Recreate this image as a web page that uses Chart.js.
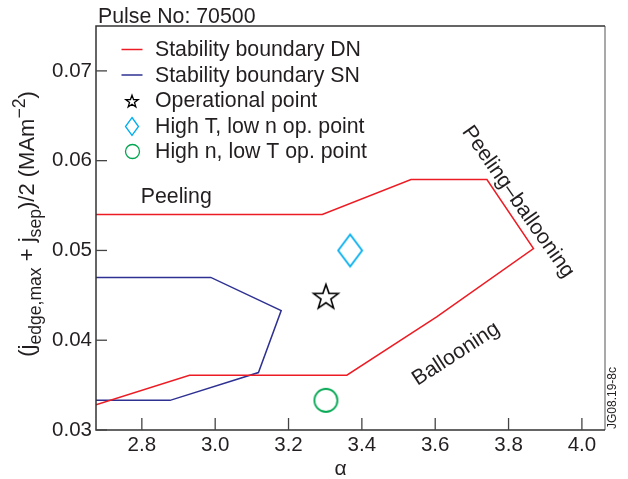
<!DOCTYPE html>
<html><head><meta charset="utf-8">
<script src="https://cdn.jsdelivr.net/npm/chart.js@4.4.1/dist/chart.umd.min.js"></script>
<style>html,body{margin:0;padding:0;background:#fff}#wrap{width:628px;height:479px;position:relative}</style>
</head><body><div id="wrap"><canvas id="c" width="628" height="479"></canvas></div>
<script>
// Stability boundaries: alpha vs. (j_edge,max + j_sep)/2
const dnAlpha = [2.675, 3.292, 3.534, 3.741, 3.868, 3.604, 3.359, 2.930, 2.675];
const dnJ     = [0.0540, 0.0540, 0.0579, 0.0579, 0.0502, 0.0426, 0.0361, 0.0361, 0.0328];
const snAlpha = [2.675, 2.988, 3.180, 3.118, 2.877, 2.675];
const snJ     = [0.0470, 0.0470, 0.0433, 0.0364, 0.0333, 0.0333];
// Operating points
const opAlpha  = [3.302]; const opJ  = [0.0449];
const hiTAlpha = [3.368]; const hiTJ = [0.0500];
const hiNAlpha = [3.302]; const hiNJ = [0.0333];
// Axis ticks
const xTicks = [2.8, 3.0, 3.2, 3.4, 3.6, 3.8, 4.0];
const yTicks = [0.03, 0.04, 0.05, 0.06, 0.07];
const seriesNames = ['Stability boundary DN', 'Stability boundary SN', 'Operational point',
                     'High T, low n op. point', 'High n, low T op. point'];

const FONT = "'Liberation Sans', Arial, Helvetica, sans-serif";
const TXT = 21.3;
const INK = '#231f20';
const RED = '#ed1c24', BLUE = '#2e3192', CYAN = '#00aeef', GREEN = '#00a651';

function zip(xs, ys) { return xs.map((x, i) => ({ x: x, y: ys[i] })); }

// Marker glyphs drawn onto small canvases
function starMarker(r, lw) {
  const s = Math.ceil(2 * r + 2 * lw + 2), c = document.createElement('canvas');
  c.width = s; c.height = s;
  const g = c.getContext('2d'), cx = s / 2, cy = s / 2 + r * 0.1, ri = r * 0.4;
  g.beginPath();
  for (let k = 0; k < 10; k++) {
    const a = -Math.PI / 2 + k * Math.PI / 5, rr = k % 2 ? ri : r;
    const px = cx + rr * Math.cos(a), py = cy + rr * Math.sin(a);
    k ? g.lineTo(px, py) : g.moveTo(px, py);
  }
  g.closePath(); g.lineWidth = lw; g.lineJoin = 'miter'; g.strokeStyle = '#000'; g.stroke();
  return c;
}
function diamondMarker(w, h, lw, color) {
  const cw = Math.ceil(w + 2 * lw + 2), ch = Math.ceil(h + 2 * lw + 2), c = document.createElement('canvas');
  c.width = cw; c.height = ch;
  const g = c.getContext('2d'), cx = cw / 2, cy = ch / 2;
  g.beginPath();
  g.moveTo(cx, cy - h / 2); g.lineTo(cx + w / 2, cy); g.lineTo(cx, cy + h / 2); g.lineTo(cx - w / 2, cy);
  g.closePath(); g.lineWidth = lw; g.strokeStyle = color; g.stroke();
  return c;
}
function circleMarker(r, lw, color) {
  const s = Math.ceil(2 * r + 2 * lw + 2), c = document.createElement('canvas');
  c.width = s; c.height = s;
  const g = c.getContext('2d');
  g.beginPath(); g.arc(s / 2, s / 2, r, 0, Math.PI * 2);
  g.lineWidth = lw; g.strokeStyle = color; g.stroke();
  return c;
}

const bigStar = starMarker(13, 1.6), smallStar = starMarker(6.5, 1.3);
const bigDiamond = diamondMarker(24, 32, 1.8, CYAN), smallDiamond = diamondMarker(13, 18, 1.3, CYAN);
const bigCircle = circleMarker(11.5, 1.8, GREEN), smallCircle = circleMarker(7, 1.3, GREEN);
const legendGlyphs = [null, null, smallStar, smallDiamond, smallCircle];

// Rotated region labels, anchored in data units
const regionNotes = [
  { text: 'Peeling', a: 2.797, j: 0.05595, rot: 0, align: 'left' },
  { text: 'Peeling\u2013ballooning', a: 3.8256, j: 0.0554, rot: 55, align: 'center' },
  { text: 'Ballooning', a: 3.6567, j: 0.03846, rot: -33, align: 'center' }
];

function richText(g, parts, size) {
  // parts: [text, mode] with mode 'n' | 'sub' | 'sup'
  let w = 0;
  const runs = parts.map(([t, m]) => {
    const fs = m === 'n' ? size : size * 0.8;
    g.font = fs + 'px ' + FONT;
    const tw = g.measureText(t).width;
    const r = { t, fs, dy: m === 'sub' ? size * 0.3 : m === 'sup' ? -size * 0.42 : 0, x: w };
    w += tw;
    return r;
  });
  return { runs, w };
}

const decor = {
  id: 'decor',
  afterDraw(chart) {
    const g = chart.ctx, A = chart.chartArea, xs = chart.scales.x, ys = chart.scales.y;
    g.save();
    // frame
    g.lineWidth = 1.5;
    g.strokeStyle = '#8c8c8c';
    g.beginPath(); g.moveTo(A.right, A.top); g.lineTo(A.right, A.bottom); g.stroke();
    g.strokeStyle = '#333';
    g.beginPath(); g.moveTo(A.right, A.top); g.lineTo(A.left, A.top); g.lineTo(A.left, A.bottom); g.lineTo(A.right, A.bottom); g.stroke();
    // inward ticks
    g.lineWidth = 1.3; g.strokeStyle = '#444';
    xs.ticks.forEach(t => { const p = xs.getPixelForValue(t.value); g.beginPath(); g.moveTo(p, A.bottom); g.lineTo(p, A.bottom - 12); g.stroke(); });
    ys.ticks.forEach(t => { const p = ys.getPixelForValue(t.value); g.beginPath(); g.moveTo(A.left, p); g.lineTo(A.left + 11, p); g.stroke(); });

    // legend
    g.fillStyle = INK; g.textBaseline = 'middle'; g.textAlign = 'left';
    g.font = TXT + 'px ' + FONT;
    chart.data.datasets.forEach((ds, i) => {
      const cy = A.top + 23.5 + i * 25.5, sx = A.left + 36;
      if (legendGlyphs[i]) {
        const im = legendGlyphs[i];
        g.drawImage(im, Math.round(sx - im.width / 2), Math.round(cy - im.height / 2));
      } else {
        g.strokeStyle = ds.borderColor; g.lineWidth = 1.5;
        g.beginPath(); g.moveTo(sx - 10.5, cy); g.lineTo(sx + 10.5, cy); g.stroke();
      }
      g.fillStyle = INK;
      g.fillText(ds.label, A.left + 59, cy + 1);
    });

    // region labels
    g.font = TXT + 'px ' + FONT; g.textBaseline = 'middle';
    regionNotes.forEach(n => {
      g.save();
      g.translate(xs.getPixelForValue(n.a), ys.getPixelForValue(n.j));
      g.rotate(n.rot * Math.PI / 180);
      g.textAlign = n.align; g.fillText(n.text, 0, 0);
      g.restore();
    });

    // pulse number
    g.textAlign = 'left'; g.textBaseline = 'alphabetic'; g.font = TXT + 'px ' + FONT;
    g.fillText('Pulse No: 70500', A.left + 2, A.top - 3.5);

    // x title
    g.textAlign = 'center'; g.font = '21px ' + FONT;
    g.fillText('\u03b1', A.left + (A.right - A.left) / 2 - 10, 475);

    // y title with sub/superscripts
    const parts = [['(j', 'n'], ['edge,max', 'sub'], [' + j', 'n'], ['sep', 'sub'], [')/2 (MAm', 'n'], ['\u22122', 'sup'], [')', 'n']];
    const rt = richText(g, parts, 22);
    g.save();
    g.translate(34, 224); g.rotate(-Math.PI / 2);
    g.textAlign = 'left'; g.textBaseline = 'alphabetic';
    rt.runs.forEach(r => { g.font = r.fs + 'px ' + FONT; g.fillText(r.t, -rt.w / 2 + r.x, r.dy); });
    g.restore();

    // figure tag
    g.save();
    g.translate(616, 398); g.rotate(-Math.PI / 2);
    g.font = '12px ' + FONT; g.textAlign = 'center'; g.textBaseline = 'alphabetic';
    g.fillText('JG08.19-8c', 0, 0);
    g.restore();
    g.restore();
  }
};

new Chart(document.getElementById('c'), {
  type: 'scatter',
  data: {
    datasets: [
      { label: seriesNames[0], data: zip(dnAlpha, dnJ), showLine: true, borderColor: RED, borderWidth: 1.5, pointRadius: 0, tension: 0, fill: false },
      { label: seriesNames[1], data: zip(snAlpha, snJ), showLine: true, borderColor: BLUE, borderWidth: 1.5, pointRadius: 0, tension: 0, fill: false },
      { label: seriesNames[2], data: zip(opAlpha, opJ), pointStyle: bigStar, pointRadius: 13 },
      { label: seriesNames[3], data: zip(hiTAlpha, hiTJ), pointStyle: bigDiamond, pointRadius: 16 },
      { label: seriesNames[4], data: zip(hiNAlpha, hiNJ), pointStyle: bigCircle, pointRadius: 12 }
    ]
  },
  options: {
    responsive: false, animation: false, devicePixelRatio: 1,
    layout: { padding: { top: 26, right: 23, left: 0, bottom: 0 } },
    plugins: { legend: { display: false }, tooltip: { enabled: false }, title: { display: false } },
    scales: {
      x: {
        type: 'linear', min: 2.675, max: 4.063,
        afterBuildTicks: s => { s.ticks = xTicks.map(v => ({ value: v })); },
        afterFit: s => { s.height = 49; },
        grid: { display: false, drawTicks: false },
        border: { display: false },
        ticks: { color: INK, font: { family: FONT, size: 20.5 }, padding: 3, maxRotation: 0, callback: v => v.toFixed(1) }
      },
      y: {
        type: 'linear', min: 0.03, max: 0.075,
        afterBuildTicks: s => { s.ticks = yTicks.map(v => ({ value: v })); },
        afterFit: s => { s.width = 96; },
        grid: { display: false, drawTicks: false },
        border: { display: false },
        ticks: { color: INK, font: { family: FONT, size: 20.5 }, padding: 4, callback: v => v.toFixed(2) }
      }
    }
  },
  plugins: [decor]
});
</script></body></html>
